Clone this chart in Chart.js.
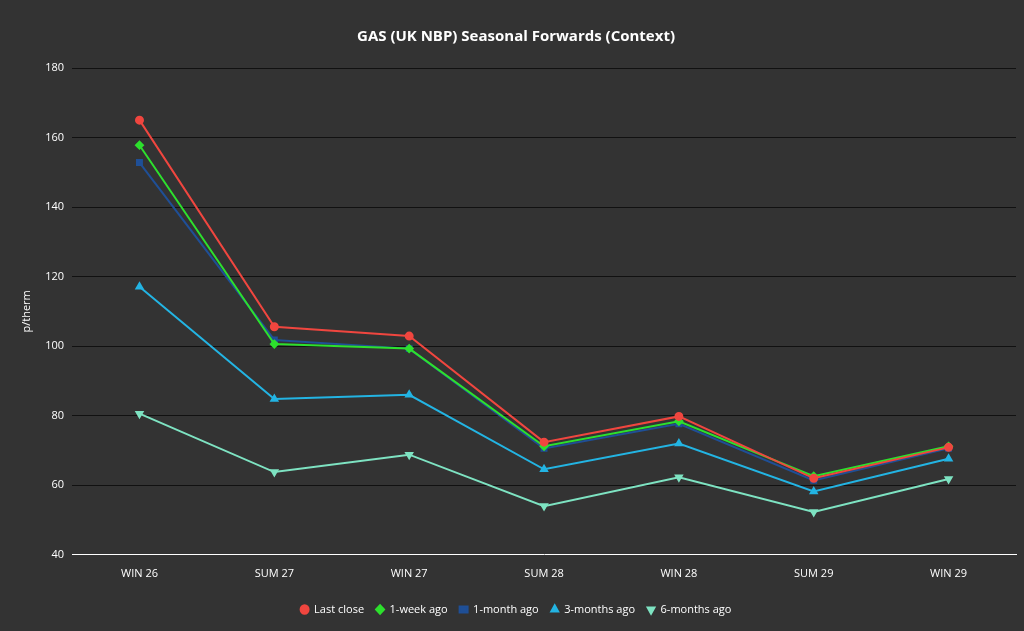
<!DOCTYPE html>
<html>
<head>
<meta charset="utf-8">
<script src="https://cdn.jsdelivr.net/npm/chart.js@4"></script>
<style>
  html, body { margin: 0; background: #333333; }
  #wrap { width: 1024px; height: 631px; }
</style>
</head>
<body>
<div id="wrap"><canvas id="gasChart"></canvas></div>
<script>
// ================================
// DATA
// ================================
const seasons = ["WIN 26", "SUM 27", "WIN 27", "SUM 28", "WIN 28", "SUM 29", "WIN 29"];
const lastClose = [165, 105.6, 102.9, 72.4, 79.8, 62, 70.9];
const weekAgo = [157.8, 100.6, 99.3, 71.2, 78.4, 62.6, 71.2];
const monthAgo = [152.8, 101.8, 99.3, 70.6, 77.7, 61.4, 70.6];
const threeMonthsAgo = [117.1, 84.8, 86, 64.6, 72, 58.2, 67.6];
const sixMonthsAgo = [80.6, 63.8, 68.8, 54, 62.3, 52.3, 61.8];

Chart.defaults.color = "#ffffff";
Chart.defaults.font.family = "Open Sans";
Chart.defaults.font.size = 11;

function series(label, data, color, style, rotation) {
  return {
    label: label,
    data: data,
    borderColor: color,
    backgroundColor: color,
    borderWidth: 2,
    tension: 0,
    pointStyle: style,
    pointRotation: rotation || 0,
    pointRadius: 3.5
  };
}

new Chart(document.getElementById("gasChart"), {
  type: "line",
  data: {
    labels: seasons,
    datasets: [
      series("Last close", lastClose, "#f0463f", "circle"),
      series("1-week ago", weekAgo, "#2de02d", "rectRot"),
      series("1-month ago", monthAgo, "#1f4f96", "rect"),
      series("3-months ago", threeMonthsAgo, "#23b4e3", "triangle"),
      series("6-months ago", sixMonthsAgo, "#7ee3c2", "triangle", 180)
    ]
  },
  options: {
    responsive: true,
    maintainAspectRatio: false,
    animation: false,
    layout: { padding: { left: 16, right: 8, top: 26, bottom: 6 } },
    plugins: {
      title: {
        display: true,
        text: "GAS (UK NBP) Seasonal Forwards (Context)",
        font: { size: 15, weight: "bold" },
        padding: { top: 2, bottom: 22 }
      },
      legend: {
        position: "bottom",
        labels: { usePointStyle: true, pointStyleWidth: 8, boxHeight: 6, padding: 12 }
      }
    },
    scales: {
      x: {
        offset: true,
        grid: { display: false, drawTicks: false },
        border: { color: "#ffffff" },
        ticks: { padding: 12 }
      },
      y: {
        min: 40,
        max: 180,
        ticks: { stepSize: 20, padding: 8 },
        grid: { color: "#111111", drawTicks: false },
        border: { display: false },
        title: { display: true, text: "p/therm" }
      }
    }
  }
});
</script>
</body>
</html>
